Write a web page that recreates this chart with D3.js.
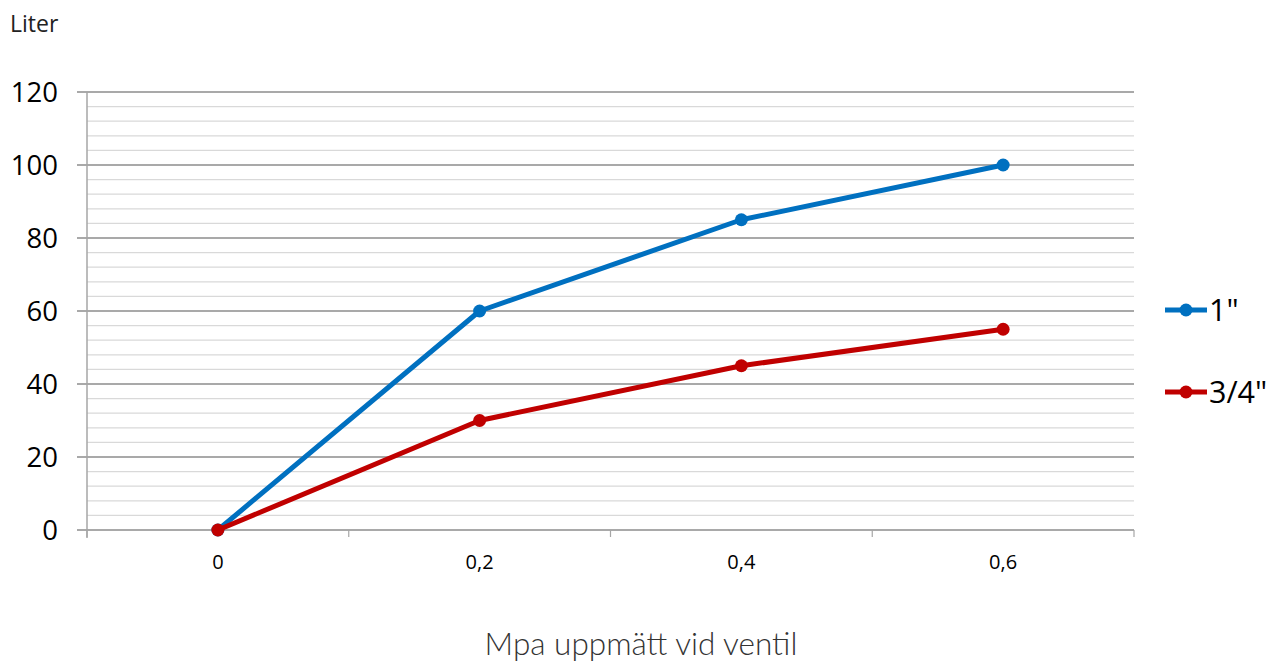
<!DOCTYPE html>
<html><head><meta charset="utf-8">
<script src="https://cdn.jsdelivr.net/npm/d3@7"></script>
<style>body{margin:0;background:#fff;} svg{display:block;}</style>
</head><body>
<svg id="c" width="1273" height="662"></svg>
<script>
const categories = ["0", "0,2", "0,4", "0,6"];
const series1Name = '1"';
const series1 = [0, 60, 85, 100];
const series2Name = '3/4"';
const series2 = [0, 30, 45, 55];
const yTicks = [0, 20, 40, 60, 80, 100, 120];
const yMinor = d3.range(0, 121, 4);

const svg = d3.select("#c");
const L = 87, R = 1134, T = 92, B = 530;
const x = d3.scaleBand().domain(categories).range([L, R]);
const y = d3.scaleLinear().domain([0, 120]).range([B, T]);
const font = "'Open Sans', 'Noto Sans', sans-serif";

// minor gridlines
svg.append("g").selectAll("line").data(yMinor.filter(v => v % 20 !== 0)).join("line")
  .attr("x1", L).attr("x2", R).attr("y1", d => y(d)).attr("y2", d => y(d))
  .attr("stroke", "#d9d9d9").attr("stroke-width", 1.2);
// major gridlines
svg.append("g").selectAll("line").data(yTicks).join("line")
  .attr("x1", L - 10).attr("x2", R).attr("y1", d => y(d)).attr("y2", d => y(d))
  .attr("stroke", "#8c8c8c").attr("stroke-width", 1.6);
// y axis line
svg.append("line").attr("x1", L).attr("x2", L).attr("y1", T).attr("y2", B + 8)
  .attr("stroke", "#a6a6a6").attr("stroke-width", 1.5);
// x ticks at band boundaries
const bounds = categories.map(c => x(c)).concat([R]);
svg.append("g").selectAll("line").data(bounds).join("line")
  .attr("x1", d => d).attr("x2", d => d).attr("y1", B).attr("y2", B + 7)
  .attr("stroke", "#a6a6a6").attr("stroke-width", 1.2);

// y labels
svg.append("g").selectAll("text").data(yTicks).join("text")
  .attr("x", 58).attr("y", d => y(d)).attr("dy", "0.35em")
  .attr("text-anchor", "end").attr("font-family", font).attr("font-size", 27.5)
  .attr("fill", "#000").text(d => d);
// x labels
svg.append("g").selectAll("text").data(categories).join("text")
  .attr("x", d => x(d) + x.bandwidth() / 2).attr("y", 562).attr("dy", "0.35em")
  .attr("text-anchor", "middle").attr("font-family", font).attr("font-size", 20)
  .attr("fill", "#000").text(d => d);

svg.append("text").attr("x", 10).attr("y", 32).attr("font-family", font)
  .attr("font-size", 23).attr("fill", "#222").text("Liter");
svg.append("text").attr("x", 641).attr("y", 655).attr("text-anchor", "middle")
  .attr("font-family", "Lato, 'Open Sans', sans-serif").attr("font-weight", 300)
  .attr("font-size", 31.5).attr("fill", "#333").text("Mpa uppmätt vid ventil");

const cx = d => x(d) + x.bandwidth() / 2;
const line = d3.line().x((v, i) => cx(categories[i])).y(v => y(v));
const all = [[series1, "#0070C0", series1Name], [series2, "#C00000", series2Name]];
all.forEach(([data, col]) => {
  svg.append("path").datum(data).attr("d", line).attr("fill", "none")
    .attr("stroke", col).attr("stroke-width", 5).attr("stroke-linejoin", "round");
  svg.append("g").selectAll("circle").data(data).join("circle")
    .attr("cx", (v, i) => cx(categories[i])).attr("cy", v => y(v)).attr("r", 6.5)
    .attr("fill", col);
});

// legend
const legY = [310, 392];
all.forEach(([data, col, name], i) => {
  const g = svg.append("g");
  g.append("line").attr("x1", 1165).attr("x2", 1207).attr("y1", legY[i]).attr("y2", legY[i])
    .attr("stroke", col).attr("stroke-width", 5);
  g.append("circle").attr("cx", 1186).attr("cy", legY[i]).attr("r", 6.5).attr("fill", col);
  g.append("text").attr("x", 1209).attr("y", legY[i]).attr("dy", "0.35em")
    .attr("font-family", font).attr("font-size", 30.5).attr("fill", "#000").text(name);
});
</script>
</body></html>
